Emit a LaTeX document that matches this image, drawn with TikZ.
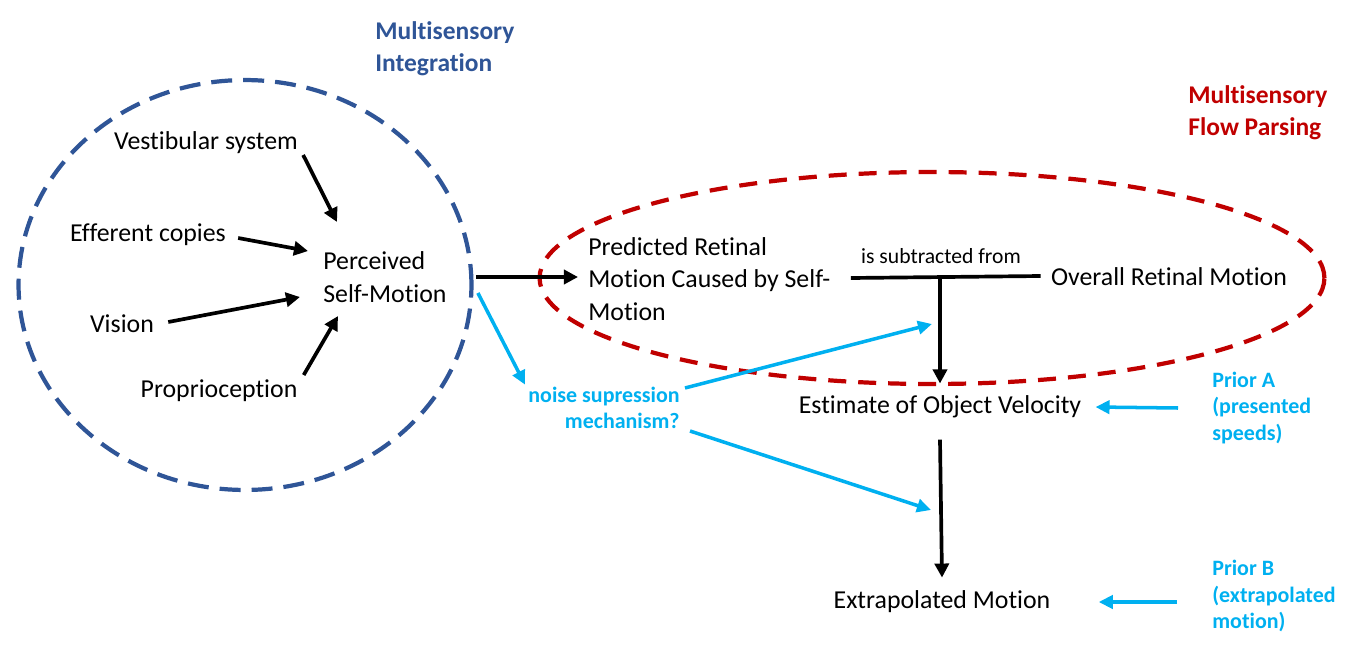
\documentclass[tikz,border=0pt]{standalone}
\usepackage{fontspec}
\setmainfont{Carlito}[Ligatures=NoCommon]
\usepackage{xcolor}
\usetikzlibrary{arrows.meta}

\definecolor{intblue}{HTML}{2F5597}
\definecolor{fpred}{HTML}{C00000}
\definecolor{noisecyan}{HTML}{00B0F0}

\tikzset{
  txt/.style={inner sep=0pt, font={\fontsize{14.7}{18.5}\selectfont}},
  head/.style={inner sep=0pt, align=left, anchor=west, font={\fontsize{14.5}{18.1}\selectfont\bfseries}},
  note/.style={inner sep=0pt, text=noisecyan, font={\fontsize{12.5}{15}\selectfont\bfseries}},
  blk/.style={line width=2.1pt, -{Triangle[length=8pt,width=8pt]}},
  cyn/.style={noisecyan, line width=2pt, -{Triangle[length=8pt,width=7.5pt]}},
}

\begin{document}
\begin{tikzpicture}[x=0.02cm, y=-0.02cm]

\useasboundingbox (0,0) rectangle (1363,656);

% Ellipse parameters
\def\intrx{4.53cm} % integration ellipse
\def\intry{4.1cm}
\def\fprx{7.85cm} % flow parsing ellipse
\def\fpry{2.12cm}

% Draw the two dashed ellipses
\draw[intblue, line width=2.4pt, dash pattern=on 0.42cm off 0.22cm] (245,285) ellipse [x radius=\intrx, y radius=\intry];
\draw[fpred, line width=2.4pt, dash pattern=on 0.36cm off 0.24cm] (932,278) ellipse [x radius=\fprx, y radius=\fpry];

% Headings
\node[head, text=intblue] (intg) at (375,49) {Multisensory\\Integration};
\node[head, text=fpred] (fp) at (1188,113) {Multisensory\\Flow Parsing};

% Senses
\node[txt] (vest) at (206,143) {Vestibular system};
\node[txt] (eff) at (148,235) {Efferent copies};
\node[txt] (vis) at (122,324) {Vision};
\node[txt] (prop) at (219,391) {Proprioception};
\node[txt, align=left, anchor=west] (self) at (323,277) {Perceived\\Self-Motion};

% Flow parsing
\node[txt, align=left, anchor=west] (pred) at (588,279) {Predicted Retinal\\Motion Caused by Self-\\Motion};
\node[inner sep=0pt, font={\fontsize{12.3}{14}\selectfont}] (sub) at (941,256) {is subtracted from};
\node[txt] (overall) at (1169,277) {Overall Retinal Motion};
\node[txt] (est) at (940,407) {Estimate of Object Velocity};
\node[txt] (extr) at (942,602) {Extrapolated Motion};

% Noise and priors
\node[note, align=right, anchor=east] (noise) at (680,408) {noise supression\\mechanism?};
\node[note, align=left, anchor=west] (pa) at (1212,408) {Prior A\\(presented\\speeds)};
\node[note, align=left, anchor=west] (pb) at (1212,596) {Prior B\\(extrapolated\\motion)};

% Free ends
\coordinate (join) at (940,278);
\coordinate (upTip) at (932,324);
\coordinate (lowTip) at (931,510);

% Arrows into perceived self-motion
\draw[blk] ([shift={(5,12)}]vest.east) -- ([shift={(14,-55)}]self.west);
\draw[blk] ([shift={(12,3)}]eff.east) -- ([shift={(-15,-26)}]self.west);
\draw[blk] ([shift={(14,-2)}]vis.east) -- ([shift={(-23,20)}]self.west);
\draw[blk] ([shift={(6,-16)}]prop.east) -- ([shift={(15,39)}]self.west);

% Main chain
\draw[blk] ([shift={(29,0)}]self.east) -- ([shift={(-10,-2)}]pred.west);
\draw[line width=2.1pt] ([shift={(20,-1)}]pred.east) -- ([shift={(-10,-1)}]overall.west);
\draw[blk] (join) -- ([shift={(0,-12)}]est.north);
\draw[blk] ([shift={(0,21)}]est.south) -- ([shift={(0,-13)}]extr.north);

% Cyan arrows
\draw[cyn] ([shift={(31,16)}]self.east) -- ([shift={(-3,-2)}]noise.north west);
\draw[cyn] ([shift={(5,-20)}]noise.east) -- (upTip);
\draw[cyn] ([shift={(10,23)}]noise.east) -- (lowTip);
\draw[cyn] ([shift={(-34,0)}]pa.west) -- ([shift={(14,0)}]est.east);
\draw[cyn] ([shift={(-35,6)}]pb.west) -- ([shift={(48,0)}]extr.east);

\end{tikzpicture}
\end{document}
